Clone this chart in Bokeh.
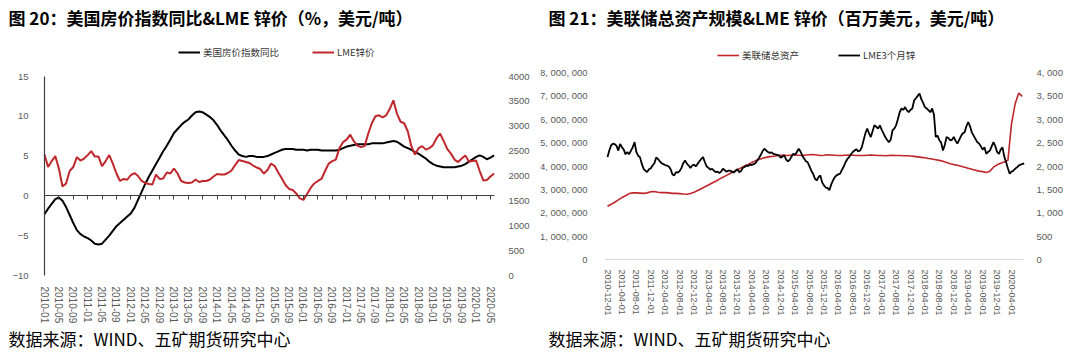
import math
from bokeh.plotting import figure
from bokeh.models import Range1d, LinearAxis, FixedTicker, Legend, LegendItem, Label
from bokeh.layouts import row
from bokeh.embed import file_html
from bokeh.resources import INLINE

# ---------------- left chart data (monthly, 2010-01 .. 2020-06) ----------------
hpi_yoy = [-2.3, -1.6, -1.0, -0.4, -0.2, -0.6, -1.4, -2.4, -3.4, -4.3,
           -4.8, -5.1, -5.3, -5.6, -6.0, -6.1, -6.0, -5.5, -5.0, -4.4,
           -3.8, -3.4, -3.0, -2.6, -2.2, -1.5, -0.5, 0.5, 1.5, 2.4,
           3.2, 4.0, 4.8, 5.6, 6.3, 7.1, 7.9, 8.4, 8.9, 9.3,
           9.6, 10.1, 10.5, 10.6, 10.5, 10.2, 9.9, 9.5, 8.9, 8.2,
           7.6, 7.0, 6.3, 5.7, 5.2, 5.0, 4.9, 5.0, 5.0, 4.9,
           4.9, 4.9, 5.0, 5.2, 5.4, 5.6, 5.8, 5.9, 5.9, 5.9,
           5.8, 5.8, 5.8, 5.7, 5.8, 5.8, 5.8, 5.7, 5.7, 5.7,
           5.7, 5.7, 5.8, 6.0, 6.2, 6.3, 6.4, 6.5, 6.5, 6.5,
           6.5, 6.6, 6.6, 6.6, 6.6, 6.7, 6.8, 6.9, 6.8, 6.5,
           6.2, 6.0, 5.8, 5.5, 5.3, 5.0, 4.7, 4.3, 4.0, 3.8,
           3.7, 3.6, 3.6, 3.6, 3.6, 3.7, 3.8, 4.0, 4.3, 4.6,
           4.9, 5.1, 4.9, 4.6, 4.8, 5.1]
lme_zinc_m = [2430, 2180, 2300, 2400, 2150, 1790, 1850, 2100, 2180, 2380,
              2310, 2350, 2420, 2500, 2390, 2390, 2200, 2300, 2420, 2250,
              2050, 1900, 1940, 1925, 2020, 2060, 2000, 1900, 1860, 1840,
              1830, 2030, 1940, 1950, 2070, 2050, 2150, 2050, 1900, 1870,
              1860, 1870, 1930, 1880, 1900, 1900, 1930, 1990, 2040, 2030,
              2030, 2060, 2110, 2220, 2320, 2300, 2280, 2260, 2210, 2170,
              2140, 2050, 2120, 2250, 2200, 2070, 1950, 1820, 1740, 1720,
              1650, 1550, 1520, 1640, 1760, 1850, 1900, 1940, 2100, 2250,
              2300, 2330, 2560, 2680, 2730, 2830, 2700, 2610, 2580, 2600,
              2850, 3060, 3200, 3220, 3180, 3220, 3350, 3520, 3250, 3090,
              3060, 2900, 2600, 2430, 2560, 2600, 2530, 2560, 2620, 2760,
              2850, 2700, 2540, 2450, 2330, 2280, 2350, 2410, 2290, 2300,
              2310, 2100, 1910, 1920, 1990, 2050]
left_tick_labels = ["2010-01", "2010-05", "2010-09", "2011-01", "2011-05", "2011-09",
                    "2012-01", "2012-05", "2012-09", "2013-01", "2013-05", "2013-09",
                    "2014-01", "2014-05", "2014-09", "2015-01", "2015-05", "2015-09",
                    "2016-01", "2016-05", "2016-09", "2017-01", "2017-05", "2017-09",
                    "2018-01", "2018-05", "2018-09", "2019-01", "2019-05", "2019-09",
                    "2020-01", "2020-05"]
left_y_labels = ["−10", "−5", "0", "5", "10", "15"]
left_y_ticks = [-10, -5, 0, 5, 10, 15]
left_y2_ticks = [0, 500, 1000, 1500, 2000, 2500, 3000, 3500, 4000]

# ---------------- right chart data ----------------
# Fed total assets (millions of USD, written in units of one million millions), monthly 2010-12 .. 2020-07
fed_assets_mm = [2.28, 2.36, 2.45, 2.55, 2.65, 2.73, 2.82, 2.85, 2.85, 2.84,
                 2.83, 2.85, 2.90, 2.91, 2.88, 2.86, 2.86, 2.85, 2.83, 2.83,
                 2.82, 2.80, 2.79, 2.82, 2.88, 2.95, 3.03, 3.11, 3.19, 3.27,
                 3.35, 3.44, 3.52, 3.60, 3.68, 3.76, 3.84, 3.92, 4.00, 4.07,
                 4.15, 4.22, 4.28, 4.33, 4.37, 4.40, 4.42, 4.44, 4.46, 4.46,
                 4.45, 4.47, 4.48, 4.46, 4.45, 4.47, 4.48, 4.49, 4.47, 4.45,
                 4.46, 4.48, 4.47, 4.46, 4.45, 4.45, 4.46, 4.47, 4.46, 4.45,
                 4.45, 4.45, 4.46, 4.47, 4.46, 4.45, 4.45, 4.44, 4.45, 4.46,
                 4.45, 4.45, 4.44, 4.44, 4.43, 4.41, 4.39, 4.37, 4.35, 4.32,
                 4.30, 4.27, 4.24, 4.20, 4.15, 4.10, 4.06, 4.03, 3.99, 3.95,
                 3.90, 3.86, 3.82, 3.78, 3.76, 3.72, 3.78, 3.95, 4.05, 4.12,
                 4.17, 4.24, 5.80, 6.65, 7.12, 6.98]
# LME 3-month zinc, USD/t, twice a month 2010-12 .. 2020-07
lme3m_zinc = [2190, 2330, 2440, 2480, 2470, 2430, 2330, 2470, 2400, 2350,
              2250, 2300, 2250, 2330, 2400, 2510, 2300, 2220, 2190, 2050,
              1940, 1900, 1870, 1930, 1950, 2010, 2060, 2180, 2150, 2100,
              2060, 2040, 2020, 2010, 1990, 1930, 1820, 1800, 1870, 1860,
              1890, 1960, 2060, 2120, 2050, 2010, 1960, 2010, 2030, 1990,
              2050, 2100, 2150, 2190, 2080, 1990, 1960, 1920, 1940, 1900,
              1870, 1880, 1850, 1880, 1940, 1910, 1880, 1900, 1900, 1880,
              1860, 1900, 1930, 1870, 1890, 1960, 1980, 2010, 2000, 2030,
              2020, 2040, 2060, 2120, 2170, 2240, 2320, 2370, 2330, 2300,
              2280, 2290, 2260, 2250, 2240, 2230, 2180, 2200, 2230, 2140,
              2100, 2130, 2200, 2260, 2240, 2300, 2370, 2310, 2220, 2160,
              2100, 2080, 1990, 1900, 1835, 1730, 1690, 1760, 1800, 1650,
              1585, 1540, 1530, 1480, 1600, 1690, 1760, 1800, 1820, 1835,
              1920, 1990, 2080, 2150, 2190, 2250, 2300, 2330, 2360, 2310,
              2330, 2400, 2550, 2700, 2800, 2700, 2620, 2750, 2870, 2840,
              2800, 2870, 2780, 2700, 2620, 2560, 2510, 2560, 2760, 2800,
              2870, 3000, 3150, 3230, 3200, 3260, 3190, 3150, 3200, 3230,
              3400, 3450, 3500, 3550, 3430, 3350, 3260, 3230, 3190, 3150,
              3230, 3100, 2620, 2650, 2550, 2500, 2330, 2450, 2620, 2600,
              2550, 2560, 2620, 2540, 2480, 2560, 2640, 2700, 2720, 2850,
              2940, 2850, 2720, 2650, 2580, 2510, 2480, 2420, 2350, 2400,
              2260, 2300, 2330, 2420, 2510, 2430, 2300, 2260, 2350, 2400,
              2200, 2080, 1950, 1835, 1880, 1900, 1940, 1970, 2010, 2030,
              2040, 2060]
right_tick_labels = ["2010-12-01", "2011-04-01", "2011-08-01", "2011-12-01", "2012-04-01",
                     "2012-08-01", "2012-12-01", "2013-04-01", "2013-08-01", "2013-12-01",
                     "2014-04-01", "2014-08-01", "2014-12-01", "2015-04-01", "2015-08-01",
                     "2015-12-01", "2016-04-01", "2016-08-01", "2016-12-01", "2017-04-01",
                     "2017-08-01", "2017-12-01", "2018-04-01", "2018-08-01", "2018-12-01",
                     "2019-04-01", "2019-08-01", "2019-12-01", "2020-04-01"]
right_y_ticks = [0, 1000000, 2000000, 3000000, 4000000, 5000000, 6000000, 7000000, 8000000]
right_y_labels = ["0", "1, 000, 000", "2, 000, 000", "3, 000, 000", "4, 000, 000",
                  "5, 000, 000", "6, 000, 000", "7, 000, 000", "8, 000, 000"]
right_y2_ticks = [0, 500, 1000, 1500, 2000, 2500, 3000, 3500, 4000]
right_y2_labels = ["0", "500", "1, 000", "1, 500", "2, 000", "2, 500", "3, 000", "3, 500", "4, 000"]

RED = "#C0272D"
BLACK = "#000000"
TICK_GRAY = "#595959"
CJK = "Noto Sans CJK SC"
NUM = "Liberation Sans"
W, H = 540, 358


def lin(v0, p0, v1, p1):
    """map pixel -> value from two anchors"""
    return lambda px: v0 + (px - p0) * (v1 - v0) / (p1 - p0)


def x_range_from(v0, p0, v1, p1):
    f = lin(v0, p0, v1, p1)
    return Range1d(f(0), f(W)), f


def y_range_from(v0, p0, v1, p1):
    f = lin(v0, p0, v1, p1)   # p measured from top
    return Range1d(f(H), f(0)), f


def new_fig(xr, yr):
    p = figure(width=W, height=H, output_backend="svg", toolbar_location=None,
               x_range=xr, y_range=yr, min_border=0)
    p.min_border_left = p.min_border_right = p.min_border_top = p.min_border_bottom = 0
    p.outline_line_color = None
    p.xgrid.visible = False
    p.ygrid.visible = False
    p.xaxis.visible = False
    p.yaxis.visible = False
    p.background_fill_color = "white"
    p.border_fill_color = "white"
    return p


def plain_axis(ax, ticks, labels, size, standoff):
    ax.ticker = FixedTicker(ticks=ticks)
    ax.major_label_overrides = {t: s for t, s in zip(ticks, labels)}
    ax.axis_line_color = None
    ax.major_tick_line_color = None
    ax.minor_tick_line_color = None
    ax.major_label_standoff = standoff
    ax.major_label_text_font = NUM
    ax.major_label_text_font_size = size
    ax.major_label_text_color = TICK_GRAY
    return ax


# ================= LEFT CHART =================
xr1, fx1 = x_range_from(0, 44, 124, 490)
yr1, fy1 = y_range_from(15, 76, -10, 275)
zr1, fz1 = y_range_from(4000, 76, 0, 275)
p1 = new_fig(xr1, yr1)
p1.extra_y_ranges = {"zn": zr1}

r_hpi = p1.line(list(range(len(hpi_yoy))), hpi_yoy, line_color=BLACK, line_width=2)
r_zn = p1.line(list(range(len(lme_zinc_m))), lme_zinc_m, line_color=RED, line_width=2, y_range_name="zn")

ay = plain_axis(LinearAxis(fixed_location=fx1(44)), left_y_ticks, left_y_labels, "9.5px", 10)
ay.axis_line_color = "#404040"
ay.axis_line_width = 1.2
ay.bounds = (-10, 15)
p1.add_layout(ay, "left")

ay2 = plain_axis(LinearAxis(y_range_name="zn", fixed_location=fx1(496)), left_y2_ticks,
                 [str(t) for t in left_y2_ticks], "9.5px", 6)
p1.add_layout(ay2, "right")

left_x_ticks = list(range(0, 4 * len(left_tick_labels), 4))
ax1 = plain_axis(LinearAxis(fixed_location=-10), left_x_ticks, left_tick_labels, "10px", 5)
ax1.major_label_orientation = -math.pi / 2
p1.add_layout(ax1, "below")

zero_ax = LinearAxis(fixed_location=0, ticker=FixedTicker(ticks=left_x_ticks))
zero_ax.major_label_text_color = None
zero_ax.axis_line_color = "#404040"
zero_ax.axis_line_width = 1.2
zero_ax.major_tick_line_color = "#404040"
zero_ax.major_tick_in = 4
zero_ax.major_tick_out = 0
zero_ax.minor_tick_line_color = None
zero_ax.bounds = (0, fx1(494))
p1.add_layout(zero_ax, "above")

leg1 = Legend(items=[LegendItem(label="美国房价指数同比", renderers=[r_hpi]),
                     LegendItem(label="LME锌价", renderers=[r_zn])],
              orientation="horizontal", location=(178, H - 58.5),
              glyph_width=22, glyph_height=12, label_height=12, label_standoff=3,
              spacing=33, padding=0, margin=0, border_line_color=None,
              background_fill_alpha=0, label_text_font=CJK, label_text_font_size="9.5px",
              label_text_color="#333333")
p1.add_layout(leg1)

p1.add_layout(Label(x=8, y=H - 17, x_units="screen", y_units="screen",
                    text="图 20：美国房价指数同比&LME 锌价（%，美元/吨）",
                    text_font=CJK, text_font_size="17px", text_font_style="bold",
                    text_baseline="middle", text_color="#000000"))
p1.add_layout(Label(x=8, y=H - 338, x_units="screen", y_units="screen",
                    text="数据来源：WIND、五矿期货研究中心",
                    text_font=CJK, text_font_size="17px",
                    text_baseline="middle", text_color="#000000"))

# ================= RIGHT CHART =================
xr2, fx2 = x_range_from(0, 67, 112, 471)
yr2, fy2 = y_range_from(8000000, 72, 0, 259)
zr2, fz2 = y_range_from(4000, 72, 0, 259)
p2 = new_fig(xr2, yr2)
p2.extra_y_ranges = {"zn": zr2}

fed_vals = [v * 1000000 for v in fed_assets_mm]
r_fed = p2.line(list(range(len(fed_vals))), fed_vals, line_color=RED, line_width=1.6)
r_zn3 = p2.line([k / 2 for k in range(len(lme3m_zinc))], lme3m_zinc, line_color=BLACK,
                line_width=1.8, y_range_name="zn")

by = plain_axis(LinearAxis(fixed_location=fx2(65)), right_y_ticks, right_y_labels, "9.5px", 12)
p2.add_layout(by, "left")
by2 = plain_axis(LinearAxis(y_range_name="zn", fixed_location=fx2(483)), right_y2_ticks,
                 right_y2_labels, "9.5px", 7)
p2.add_layout(by2, "right")

right_x_ticks = list(range(0, 4 * len(right_tick_labels), 4))
bx = plain_axis(LinearAxis(fixed_location=0), right_x_ticks, right_tick_labels, "9px", 4)
bx.axis_line_color = "#D9D9D9"
bx.axis_line_width = 1
bx.bounds = (fx2(65), fx2(483))
bx.major_label_orientation = -math.pi / 2
p2.add_layout(bx, "below")

leg2 = Legend(items=[LegendItem(label="美联储总资产", renderers=[r_fed]),
                     LegendItem(label="LME3个月锌", renderers=[r_zn3])],
              orientation="horizontal", location=(177, H - 61.5),
              glyph_width=22, glyph_height=12, label_height=12, label_standoff=3,
              spacing=39, padding=0, margin=0, border_line_color=None,
              background_fill_alpha=0, label_text_font=CJK, label_text_font_size="9.5px",
              label_text_color="#333333")
p2.add_layout(leg2)

p2.add_layout(Label(x=8, y=H - 17, x_units="screen", y_units="screen",
                    text="图 21：美联储总资产规模&LME 锌价（百万美元，美元/吨）",
                    text_font=CJK, text_font_size="17px", text_font_style="bold",
                    text_baseline="middle", text_color="#000000"))
p2.add_layout(Label(x=8, y=H - 338, x_units="screen", y_units="screen",
                    text="数据来源：WIND、五矿期货研究中心",
                    text_font=CJK, text_font_size="17px",
                    text_baseline="middle", text_color="#000000"))

layout = row(p1, p2)
open("out.html", "w").write(file_html(layout, INLINE))
